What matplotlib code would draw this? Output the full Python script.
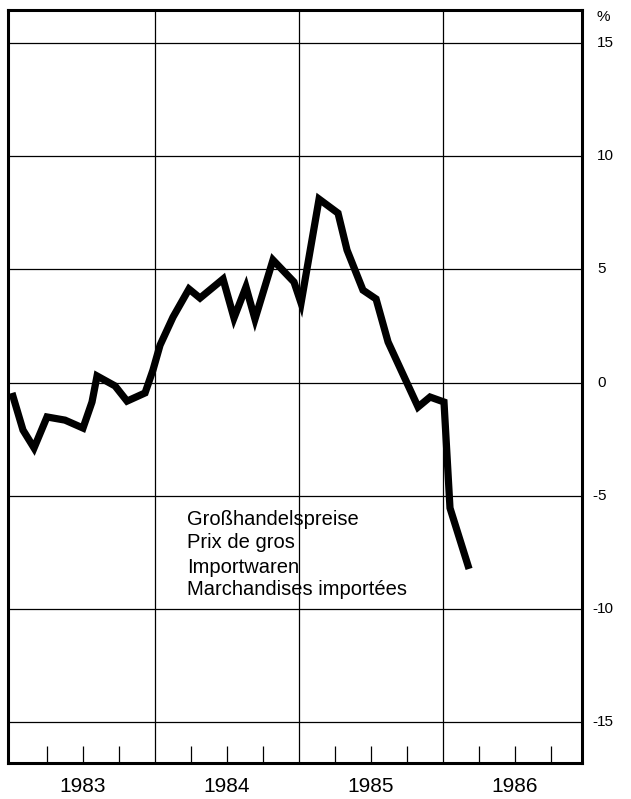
import matplotlib
matplotlib.use("Agg")
import matplotlib.pyplot as plt
import matplotlib.transforms as mtransforms

# ---- data (x = months since Jan 1983, y = % change) ----
months = [0.08, 1.0, 1.92, 3.0, 4.5, 6.0, 6.75, 7.17, 8.67, 9.67, 11.17, 11.83,
          12.42, 13.5, 14.83, 15.75, 17.67, 18.58, 19.58, 20.33, 21.83, 23.58,
          24.17, 25.67, 27.25, 28.0, 29.33, 30.42, 31.42, 33.92, 34.92, 36.08,
          36.58, 38.17]
values = [-0.46, -2.10, -2.89, -1.52, -1.66, -2.01, -0.86, 0.29, -0.15, -0.82,
          -0.46, 0.55, 1.65, 2.89, 4.13, 3.73, 4.57, 2.85, 4.22, 2.80, 5.41,
          4.44, 3.51, 8.10, 7.48, 5.85, 4.08, 3.69, 1.79, -1.08, -0.64, -0.86,
          -5.54, -8.23]

year_labels = ["1983", "1984", "1985", "1986"]
year_centers = [6, 18, 30, 42]
year_bounds = [12, 24, 36]
quarter_ticks = [3, 6, 9, 15, 18, 21, 27, 30, 33, 39, 42, 45]
y_ticks = [15, 10, 5, 0, -5, -10, -15]
annotation = ["Großhandelspreise", "Prix de gros", "Importwaren",
              "Marchandises importées"]

plt.rcParams['font.family'] = ['Liberation Sans', 'DejaVu Sans']

W, H = 631, 799
fig = plt.figure(figsize=(W / 100, H / 100), dpi=100)
L, R, T, B = 8, 582, 10, 763
ax = fig.add_axes([L / W, 1 - B / H, (R - L) / W, (B - T) / H])

ax.set_xlim(-0.25, 47.58)
ax.set_ylim(-16.80, 16.45)

# grid lines
for yv in y_ticks:
    ax.axhline(yv, color='black', lw=0.9, zorder=1)
for xv in year_bounds:
    ax.axvline(xv, color='black', lw=0.9, zorder=1)

# data line
ax.plot(months, values, color='black', lw=5.2, solid_joinstyle='miter',
        solid_capstyle='butt', zorder=3)

# spines
for s in ax.spines.values():
    s.set_linewidth(2.2)
    s.set_color('black')

# x ticks: quarterly inward ticks
ax.set_xticks(quarter_ticks)
ax.set_xticklabels([])
ax.tick_params(axis='x', which='major', direction='in', length=12.5,
               width=0.9, color='black')

# year labels below the axis
xtrans = mtransforms.blended_transform_factory(ax.transData, ax.transAxes)
y_year = (B - 786) / (B - T)
for xc, lab in zip(year_centers, year_labels):
    ax.text(xc, y_year, lab, transform=xtrans, ha='center', va='center',
            fontsize=15, clip_on=False)

# y tick labels on the right, drawn as text
ax.set_yticks([])
trans = mtransforms.blended_transform_factory(ax.transAxes, ax.transData)
x_digits = (597 - L) / (R - L)
x_minus = (597.5 - L) / (R - L)
for yv in y_ticks:
    ax.text(x_digits, yv, str(abs(yv)), transform=trans, ha='left',
            va='center', fontsize=11, clip_on=False)
    if yv < 0:
        ax.text(x_minus, yv, "-", transform=trans, ha='right',
                va='center', fontsize=11, clip_on=False)
ax.text(x_digits, 1 - (17 - T) / (B - T), "%", transform=ax.transAxes,
        ha='left', va='center', fontsize=11, clip_on=False)

# annotation
baselines = [525, 548, 573, 595]
for txt, yb in zip(annotation, baselines):
    ax.text((187 - L) / (R - L), (B - yb) / (B - T), txt,
            transform=ax.transAxes, ha='left', va='baseline', fontsize=14.5)

fig.savefig("out.png", dpi=100)
